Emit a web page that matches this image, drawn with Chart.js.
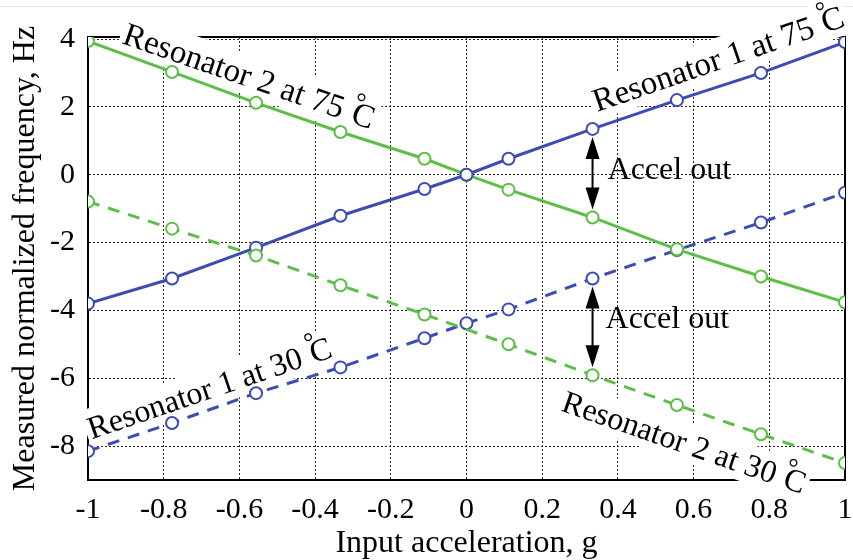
<!DOCTYPE html>
<html>
<head>
<meta charset="utf-8">
<script src="https://cdn.jsdelivr.net/npm/chart.js@4.4.0/dist/chart.umd.min.js"></script>
<style>
  body { margin: 0; background: #fff; }
  canvas { display: block; }
</style>
</head>
<body>
<canvas id="myChart" width="853" height="560"></canvas>
<script>
// input acceleration, g
const accel = [-1, -0.778, -0.556, -0.333, -0.111, 0, 0.111, 0.333, 0.556, 0.778, 1];
// measured normalized frequency, Hz
const r1At75 = [-3.8, -3.06, -2.15, -1.21, -0.42, 0, 0.47, 1.35, 2.2, 3.0, 3.91];
const r2At75 = [3.94, 3.03, 2.12, 1.26, 0.47, 0, -0.44, -1.26, -2.2, -3.0, -3.76];
const r1At30 = [-8.15, -7.32, -6.44, -5.68, -4.82, -4.38, -3.97, -3.06, -2.22, -1.41, -0.53];
const r2At30 = [-0.79, -1.59, -2.38, -3.26, -4.12, null, -5.0, -5.91, -6.79, -7.65, -8.5];

const xTicks = [-1, -0.8, -0.6, -0.4, -0.2, 0, 0.2, 0.4, 0.6, 0.8, 1];
const yTicks = [-8, -6, -4, -2, 0, 2, 4];

const BLUE = '#3b4db3';
const GREEN = '#5cbf48';
const SERIF = "'Liberation Serif', 'Times New Roman', serif";

let points = (ys) => accel.map((x, i) => ({ x: x, y: ys[i] }));

let series = (label, ys, color, dashed, order) => ({
  label: label,
  data: points(ys),
  borderColor: color,
  backgroundColor: '#fff',
  borderWidth: 3,
  borderDash: dashed ? [12, 9] : [],
  pointRadius: 6,
  pointBorderWidth: 2,
  pointBackgroundColor: '#fff',
  pointBorderColor: color,
  spanGaps: true,
  fill: false,
  tension: 0,
  order: order
});

/* text labels that sit along the lines: x,y = baseline start (data units) */
const notes = [
  { text: 'Resonator 2 at 75', size: 33, x: -0.913, y: 3.88, along: r2At75 },
  { text: 'Resonator 1 at 75', size: 33, x: 0.345, y: 1.85, along: r1At75 },
  { text: 'Resonator 1 at 30', size: 32, x: -0.99, y: -7.8, along: r1At30 },
  { text: 'Resonator 2 at 30', size: 32, x: 0.247, y: -6.95, along: r2At30 }
];

let drawNote = (c, n, xs, ys) => {
  let a = Math.atan2(
    ys.getPixelForValue(n.along[n.along.length - 1]) - ys.getPixelForValue(n.along[0]),
    xs.getPixelForValue(1) - xs.getPixelForValue(-1));
  let size = n.size;
  c.save();
  c.translate(xs.getPixelForValue(n.x), ys.getPixelForValue(n.y));
  c.rotate(a);
  c.font = size + 'px ' + SERIF;
  c.textBaseline = 'alphabetic';
  let w = c.measureText(n.text).width;
  let wc = c.measureText('C').width;
  let total = w + size * 0.3 + wc;
  // white box hides grid and frame under the text
  c.fillStyle = '#fff';
  c.fillRect(-3, -size * 0.95, total + 6, size * 1.2);
  c.fillStyle = '#000';
  c.fillText(n.text, 0, 0);
  c.fillText('C', w + size * 0.3, 0);
  c.font = Math.round(size * 0.8) + 'px ' + SERIF;
  c.fillText('°', w + size * 0.24, -size * 0.42);
  c.restore();
};

let drawArrow = (c, x, yTop, yBot) => {
  let hl = 22, hw = 7;
  c.save();
  c.strokeStyle = '#000';
  c.fillStyle = '#000';
  c.lineWidth = 2;
  c.beginPath();
  c.moveTo(x, yTop + hl - 2);
  c.lineTo(x, yBot - hl + 2);
  c.stroke();
  c.beginPath();
  c.moveTo(x, yTop); c.lineTo(x - hw, yTop + hl); c.lineTo(x + hw, yTop + hl);
  c.closePath(); c.fill();
  c.beginPath();
  c.moveTo(x, yBot); c.lineTo(x - hw, yBot - hl); c.lineTo(x + hw, yBot - hl);
  c.closePath(); c.fill();
  c.restore();
};

const decor = {
  id: 'decor',
  beforeDatasetsDraw(chart) {
    const c = chart.ctx, a = chart.chartArea;
    const xs = chart.scales.x, ys = chart.scales.y;
    c.save();
    // thin grey edge of the scanned figure
    c.strokeStyle = '#e6e6e6';
    c.lineWidth = 1;
    c.beginPath(); c.moveTo(0, 6.5); c.lineTo(853, 6.5); c.stroke();
    // box: top and right sides
    c.strokeStyle = '#000';
    c.lineWidth = 2;
    c.beginPath();
    c.moveTo(a.left, a.top); c.lineTo(a.right, a.top); c.lineTo(a.right, a.bottom);
    c.stroke();
    c.restore();
    notes.forEach(n => drawNote(c, n, xs, ys));
  },
  afterDatasetsDraw(chart) {
    const c = chart.ctx;
    const xs = chart.scales.x, ys = chart.scales.y;
    let i = 7; // arrows at the 0.333 g point
    let px = xs.getPixelForValue(accel[i]);
    let gap = 8;
    drawArrow(c, px, ys.getPixelForValue(r1At75[i]) + gap, ys.getPixelForValue(r2At75[i]) - gap);
    drawArrow(c, px, ys.getPixelForValue(r1At30[i]) + gap, ys.getPixelForValue(r2At30[i]) - gap);
    c.save();
    c.font = '32px ' + SERIF;
    c.fillStyle = '#000';
    c.textBaseline = 'alphabetic';
    c.fillText('Accel out', px + 15, ys.getPixelForValue(-0.12));
    c.fillText('Accel out', px + 13, ys.getPixelForValue(-4.53));
    c.restore();
  }
};

let plot = () => {
  const ctx = document.getElementById('myChart');
  const dataset = {
    datasets: [
      series('Resonator 1 at 75°C', r1At75, BLUE, false, 2),
      series('Resonator 2 at 75°C', r2At75, GREEN, false, 3),
      series('Resonator 1 at 30°C', r1At30, BLUE, true, 4),
      series('Resonator 2 at 30°C', r2At30, GREEN, true, 1)
    ]
  };
  const config = {
    type: 'line',
    data: dataset,
    options: {
      responsive: false,
      animation: false,
      devicePixelRatio: 1,
      layout: { padding: { top: 37, right: 4, left: 0, bottom: 0 } },
      plugins: { legend: { display: false }, tooltip: { enabled: false } },
      scales: {
        x: {
          type: 'linear',
          min: -1,
          max: 1,
          afterBuildTicks: (s) => { s.ticks = xTicks.map(v => ({ value: v })); },
          afterFit: (s) => { s.height = 80; s.paddingLeft = 0; s.paddingRight = 0; },
          ticks: {
            color: '#000',
            padding: 12,
            maxRotation: 0,
            autoSkip: false,
            font: { family: SERIF, size: 30 },
            callback: (v) => String(Math.round(v * 10) / 10)
          },
          grid: { color: '#222', lineWidth: 1, drawTicks: false },
          border: { display: true, color: '#000', width: 2, dash: [2, 2] },
          title: {
            display: true,
            text: 'Input acceleration, g',
            color: '#000',
            padding: 0,
            font: { family: SERIF, size: 32, lineHeight: 1 }
          }
        },
        y: {
          type: 'linear',
          min: -9,
          max: 4.06,
          afterBuildTicks: (s) => { s.ticks = yTicks.map(v => ({ value: v })); },
          afterFit: (s) => { s.width = 88; s.paddingTop = 0; s.paddingBottom = 0; },
          ticks: {
            color: '#000',
            padding: 13,
            font: { family: SERIF, size: 30 }
          },
          grid: { color: '#222', lineWidth: 1, drawTicks: false },
          border: { display: true, color: '#000', width: 2, dash: [2, 2] },
          title: {
            display: true,
            text: 'Measured normalized frequency, Hz',
            color: '#000',
            padding: { top: 10, bottom: 0 },
            font: { family: SERIF, size: 32, lineHeight: 1 }
          }
        }
      }
    },
    plugins: [decor]
  };
  const chart = new Chart(ctx, config);
};

plot();
</script>
</body>
</html>
